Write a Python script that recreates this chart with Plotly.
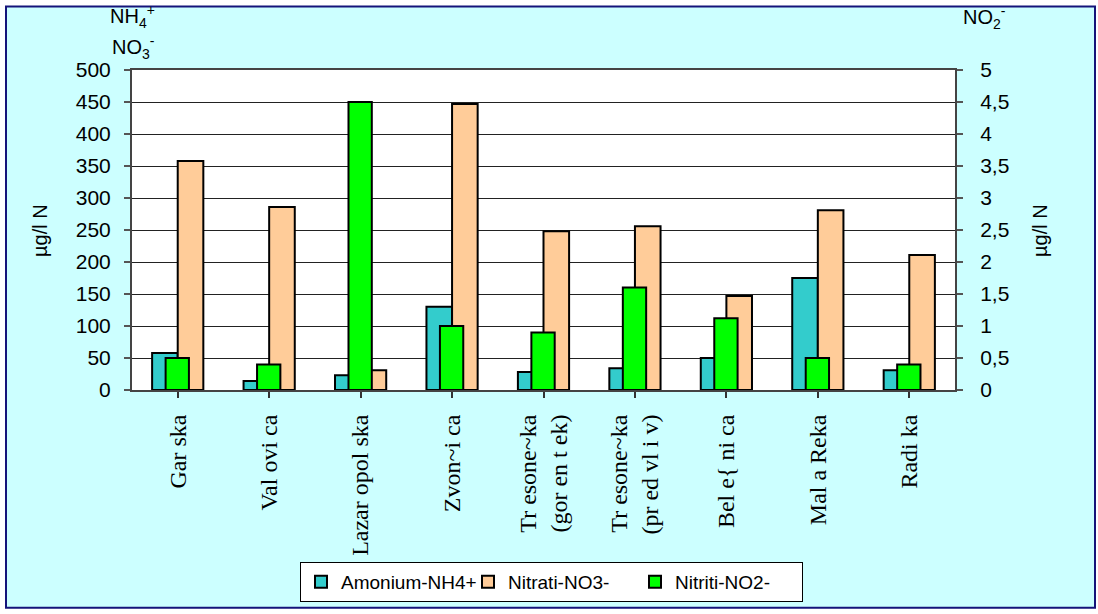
import plotly.graph_objects as go

# Sampling sites (x categories, as printed on the chart)
sites = [
    "Gar ska",
    "Val ovi ca",
    "Lazar opol ska",
    "Zvon~i ca",
    "Tr esone~ka<br>(gor en t ek)",
    "Tr esone~ka<br>(pr ed vl i v)",
    "Bel e{ ni ca",
    "Mal a Reka",
    "Radi ka",
]

# Concentrations in µg/l N
amonium_nh4 = [58, 14, 23, 130, 28, 34, 50, 175, 31]        # left axis
nitrati_no3 = [358, 286, 31, 447, 248, 256, 147, 281, 211]  # left axis
nitriti_no2 = [0.5, 0.4, 4.5, 1.0, 0.9, 1.6, 1.12, 0.5, 0.4]  # right axis

left_ticks = list(range(0, 501, 50))
right_ticks = [i / 2 for i in range(0, 11)]

C_NH4 = "#33CCCC"
C_NO3 = "#FFCC99"
C_NO2 = "#00FF00"
BG = "#CCFFFF"

W, H = 1098, 614
ML, MR, MT, MB = 132, 143, 70, 222
PW, PH = W - ML - MR, H - MT - MB


def px_x(p):
    return (p - ML) / PW


def px_y(p):
    return (H - MB - p) / PH


x_idx = list(range(len(sites)))
edge = dict(color="black", width=2)

fig = go.Figure()
fig.add_trace(go.Bar(
    x=x_idx, y=amonium_nh4, name="Amonium-NH4+",
    width=0.28, offset=-0.28,
    marker=dict(color=C_NH4, line=edge), yaxis="y",
))
fig.add_trace(go.Bar(
    x=x_idx, y=nitrati_no3, name="Nitrati-NO3-",
    width=0.28, offset=0.0,
    marker=dict(color=C_NO3, line=edge), yaxis="y",
))
fig.add_trace(go.Bar(
    x=x_idx, y=nitriti_no2, name="Nitriti-NO2-",
    width=0.255, offset=-0.1325,
    marker=dict(color=C_NO2, line=edge), yaxis="y2",
))

axis_font = dict(family="Liberation Sans, Arial", size=21, color="black")

fig.update_layout(
    width=W, height=H,
    margin=dict(l=ML, r=MR, t=MT, b=MB, pad=0),
    paper_bgcolor="white",
    plot_bgcolor="rgba(0,0,0,0)",
    barmode="overlay",
    separators=",.",
    showlegend=True,
    xaxis=dict(
        tickmode="array", tickvals=x_idx, ticktext=sites,
        range=[-0.5, len(sites) - 0.5],
        tickangle=-90,
        tickfont=dict(family="Liberation Serif, Times New Roman", size=24, color="black"),
        ticks="outside", ticklen=6, tickcolor="#333", tickwidth=1.5,
        ticklabelstandoff=7,
        showline=True, linecolor="#444", linewidth=2, mirror=True,
        showgrid=False, zeroline=False,
    ),
    yaxis=dict(
        range=[0, 500], tickvals=left_ticks,
        tickfont=axis_font,
        ticks="outside", ticklen=6, tickcolor="#555", tickwidth=1.5,
        ticklabelstandoff=9,
        showline=True, linecolor="#444", linewidth=2,
        showgrid=True, gridcolor="#222", gridwidth=1,
        zeroline=False,
    ),
    yaxis2=dict(
        range=[0, 5], tickvals=right_ticks,
        overlaying="y", side="right",
        tickfont=axis_font,
        ticks="outside", ticklen=6, tickcolor="#555", tickwidth=1.5,
        ticklabelstandoff=13,
        showline=True, linecolor="#444", linewidth=2,
        showgrid=False, zeroline=False,
    ),
    legend=dict(
        orientation="h",
        x=px_x(300), y=px_y(565), xanchor="left", yanchor="top",
        bgcolor="white", bordercolor="black", borderwidth=1,
        font=dict(family="Liberation Sans, Arial", size=19, color="black"),
        itemwidth=30, tracegroupgap=0,
        entrywidth=122, entrywidthmode="pixels",
    ),
)

# Outer frame with the light cyan fill, and the white plotting area
fig.add_shape(type="rect", xref="paper", yref="paper", layer="below",
              x0=px_x(6), x1=px_x(1095), y0=px_y(611), y1=px_y(6),
              fillcolor=BG, line=dict(color="#14147a", width=2))
fig.add_shape(type="rect", xref="paper", yref="paper", layer="below",
              x0=0, x1=1, y0=0, y1=1,
              fillcolor="white", line=dict(width=0))

title_font = dict(family="Liberation Sans, Arial", size=20, color="black")
annots = [
    dict(text="µg/l N", x=px_x(40), y=px_y(232), textangle=-90),
    dict(text="µg/l N", x=px_x(1040), y=px_y(232), textangle=-90),
    dict(text="NH<sub>4</sub><sup>+</sup>", x=px_x(132), y=px_y(16)),
    dict(text="NO<sub>3</sub><sup>-</sup>", x=px_x(133), y=px_y(47)),
    dict(text="NO<sub>2</sub><sup>-</sup>", x=px_x(985), y=px_y(17)),
]
for a in annots:
    fig.add_annotation(xref="paper", yref="paper", showarrow=False,
                       xanchor="center", yanchor="middle",
                       font=title_font, **a)

fig.write_html("out.html")
